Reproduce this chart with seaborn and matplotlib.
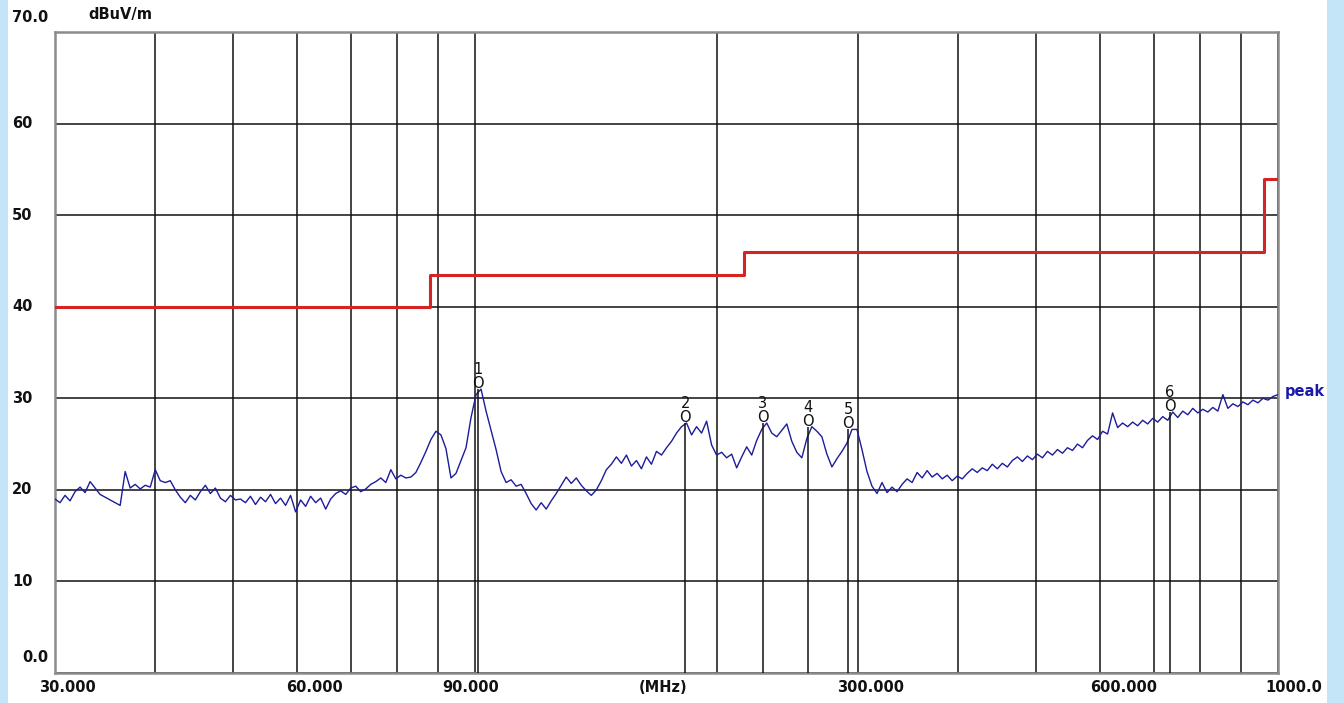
import numpy as np
import matplotlib
matplotlib.use("Agg")
import matplotlib.pyplot as plt
from matplotlib import transforms
from matplotlib.patches import Rectangle
from matplotlib.ticker import NullLocator
import seaborn as sns

# ---- measured peak trace (dBuV/m), swept logarithmically 30 MHz .. 1 GHz ----
peak_level = [
    19.0, 18.6, 19.4, 18.8, 19.8, 20.3, 19.7, 20.9, 20.2, 19.5,
    19.2, 18.9, 18.6, 18.3, 22.0, 20.2, 20.6, 20.1, 20.5, 20.3,
    22.2, 21.0, 20.8, 21.0, 20.0, 19.2, 18.6, 19.4, 18.9, 19.8,
    20.5, 19.6, 20.2, 19.1, 18.7, 19.4, 18.9, 19.0, 18.6, 19.3,
    18.4, 19.2, 18.7, 19.5, 18.5, 19.1, 18.3, 19.4, 17.6, 18.9,
    18.2, 19.3, 18.6, 19.1, 17.9, 19.0, 19.6, 19.9, 19.5, 20.2,
    20.4, 19.8, 20.1, 20.6, 20.9, 21.3, 20.8, 22.2, 21.2, 21.6,
    21.3, 21.4, 21.9, 23.0, 24.2, 25.5, 26.4, 26.0, 24.5, 21.3,
    21.8, 23.2, 24.6, 27.9, 30.4, 31.0, 28.6, 26.5, 24.4, 22.0,
    20.8, 21.1, 20.4, 20.6, 19.6, 18.5, 17.8, 18.6, 17.9, 18.8,
    19.6, 20.5, 21.4, 20.7, 21.3, 20.5, 19.9, 19.4, 20.0, 21.0,
    22.2, 22.8, 23.6, 22.9, 23.8, 22.6, 23.2, 22.3, 23.6, 22.8,
    24.2, 23.8, 24.6, 25.3, 26.2, 26.9, 27.3, 26.0, 26.9, 26.2,
    27.5, 24.9, 23.8, 24.1, 23.5, 23.9, 22.4, 23.6, 24.7, 23.8,
    25.4, 26.6, 27.3, 26.2, 25.8, 26.5, 27.2, 25.3, 24.1, 23.5,
    25.6, 26.9, 26.4, 25.8, 23.9, 22.5, 23.4, 24.2, 25.1, 26.6,
    26.6, 24.4, 22.0, 20.4, 19.6, 20.8, 19.7, 20.3, 19.8, 20.6,
    21.2, 20.8, 21.9, 21.3, 22.1, 21.4, 21.8, 21.2, 21.6, 21.0,
    21.5, 21.2, 21.8, 22.3, 21.9, 22.4, 22.1, 22.8, 22.3, 22.9,
    22.5, 23.2, 23.6, 23.1, 23.7, 23.3, 23.9, 23.5, 24.2, 23.8,
    24.4, 24.0, 24.6, 24.3, 25.0, 24.6, 25.4, 25.9, 25.5, 26.4,
    26.1, 28.4, 26.8, 27.3, 26.9, 27.4, 27.0, 27.6, 27.2, 27.8,
    27.4, 28.0, 27.6, 28.5, 27.9, 28.6, 28.2, 28.9, 28.4, 28.8,
    28.5, 29.0, 28.6, 30.4, 28.9, 29.4, 29.1, 29.6, 29.3, 29.8,
    29.5, 30.0, 29.8, 30.2, 30.4,
]
sweep_start_mhz, sweep_stop_mhz = 30.0, 1000.0
sweep_mhz = np.geomspace(sweep_start_mhz, sweep_stop_mhz, len(peak_level))

# ---- limit line (steps) ----
limit_mhz = [30, 88, 216, 960, 1000]
limit_dbuv = [40.0, 43.5, 46.0, 54.0, 54.0]

# ---- markers ----
marker_ids = ["1", "2", "3", "4", "5", "6"]
marker_mhz = [100.9, 182.7, 228.4, 259.9, 291.5, 733.9]
marker_dbuv = [31.0, 27.3, 27.3, 26.9, 26.6, 28.5]

# ---- axes ticks ----
grid_mhz = [30, 40, 50, 60, 70, 80, 90, 100, 200, 300, 400, 500, 600, 700, 800, 900, 1000]
xlabel_mhz = [30, 60, 90, 300, 600, 1000]
xlabel_text = ["30.000", "60.000", "90.000", "300.000", "600.000", "1000.0"]
ylabel_vals = [0, 10, 20, 30, 40, 50, 60, 70]
ylabel_text = ["0.0", "10", "20", "30", "40", "50", "60", "70.0"]

TRACE_BLUE = "#1c1c9c"
LIMIT_RED = "#d42424"

sns.set_theme(style="white")
plt.rcParams["font.family"] = ["DejaVu Sans"]

W, H = 1344, 703
fig = plt.figure(figsize=(W / 100, H / 100), dpi=100, facecolor="white")
ax = fig.add_axes([55 / W, (H - 673) / H, 1223 / W, 641 / H])
ax.set_facecolor("white")

# light-blue page edges
fig.patches.append(Rectangle((0, 0), 8 / W, 1, transform=fig.transFigure,
                             facecolor="#c4e4f7", edgecolor="none", zorder=-5))
fig.patches.append(Rectangle((1327 / W, 0), 17 / W, 1, transform=fig.transFigure,
                             facecolor="#c4e4f7", edgecolor="none", zorder=-5))

ax.set_xscale("log")
ax.set_xlim(sweep_start_mhz, sweep_stop_mhz)
ax.set_ylim(0, 70)

ax.set_xticks(grid_mhz)
ax.set_xticklabels([])
ax.xaxis.set_minor_locator(NullLocator())
ax.set_yticks(ylabel_vals)
ax.set_yticklabels([])
ax.tick_params(length=0)
ax.grid(True, which="major", color="#111111", linewidth=1.1)
ax.set_axisbelow(True)
for sp in ax.spines.values():
    sp.set_color("#8c8c8c")
    sp.set_linewidth(1.8)

# limit line
sns.lineplot(x=limit_mhz, y=limit_dbuv, ax=ax, color=LIMIT_RED, linewidth=2.2,
             drawstyle="steps-post", estimator=None, sort=False, zorder=3)

# peak trace
sns.lineplot(x=sweep_mhz, y=peak_level, ax=ax, color=TRACE_BLUE, linewidth=1.0,
             estimator=None, sort=False, zorder=4)

# markers: drop line, symbol and index
ax.vlines(marker_mhz, 0, marker_dbuv, color="#111111", linewidth=1.1, zorder=5)
for mid, f, lv in zip(marker_ids, marker_mhz, marker_dbuv):
    ax.annotate("O", xy=(f, lv), xytext=(0, -2), textcoords="offset pixels",
                ha="center", va="bottom", fontsize=10.5, color="#111111", zorder=6)
    ax.annotate(mid, xy=(f, lv), xytext=(0, 12), textcoords="offset pixels",
                ha="center", va="bottom", fontsize=10.5, color="#111111", zorder=6)

ax.annotate("peak", xy=(sweep_stop_mhz, peak_level[-1]), xytext=(7, 3),
            textcoords="offset pixels", ha="left", va="center", fontsize=10.5,
            fontweight="bold", color="#1a1aa8", annotation_clip=False)

# y labels: "0.0" sits right-aligned, the rest start at the left margin
ylab_tr = transforms.blended_transform_factory(fig.transFigure, ax.transData)
for v, t in zip(ylabel_vals, ylabel_text):
    if v == 0:
        x, ha, dy = 48 / W, "right", 16
    else:
        x, ha, dy = 12 / W, "left", (14 if v == 70 else 0)
    ax.annotate(t, xy=(x, v), xycoords=ylab_tr, xytext=(0, dy),
                textcoords="offset pixels", ha=ha, va="center",
                fontsize=10.5, fontweight="bold", color="#111111",
                annotation_clip=False)

fig.text(88 / W, (H - 15) / H, "dBuV/m", ha="left", va="center",
         fontsize=10.5, fontweight="bold", color="#111111")

# x labels
x_dx = [12, 18, 32, 12, 24, 16]
for f, t, dx in zip(xlabel_mhz, xlabel_text, x_dx):
    ax.annotate(t, xy=(f, 0), xycoords=("data", "axes fraction"),
                xytext=(dx, -15), textcoords="offset pixels", ha="center",
                va="center", fontsize=10.5, fontweight="bold", color="#111111",
                annotation_clip=False)
ax.annotate("(MHz)", xy=(0.497, 0), xycoords="axes fraction", xytext=(0, -15),
            textcoords="offset pixels", ha="center", va="center", fontsize=10.5,
            fontweight="bold", color="#111111", annotation_clip=False)

ax.set_xlabel("")
ax.set_ylabel("")
fig.savefig("out.png", dpi=100, facecolor="white")
